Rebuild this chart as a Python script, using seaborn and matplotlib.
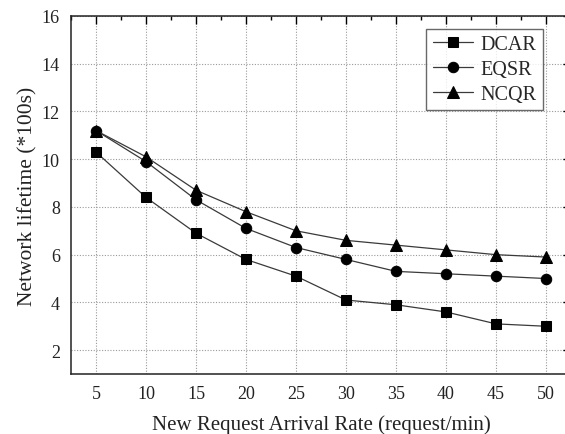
import matplotlib
matplotlib.use("Agg")
import matplotlib.pyplot as plt
import seaborn as sns
import pandas as pd
from matplotlib.ticker import MultipleLocator

rates = [5, 10, 15, 20, 25, 30, 35, 40, 45, 50]
dcar = [10.3, 8.4, 6.9, 5.8, 5.1, 4.1, 3.9, 3.6, 3.1, 3.0]
eqsr = [11.2, 9.9, 8.3, 7.1, 6.3, 5.8, 5.3, 5.2, 5.1, 5.0]
ncqr = [11.2, 10.1, 8.7, 7.8, 7.0, 6.6, 6.4, 6.2, 6.0, 5.9]
series_names = ["DCAR", "EQSR", "NCQR"]
x_ticks = [5, 10, 15, 20, 25, 30, 35, 40, 45, 50]
y_ticks = [2, 4, 6, 8, 10, 12, 14, 16]

sns.set_theme(style="white")
plt.rcParams['font.family'] = ['Liberation Serif', 'DejaVu Serif']

df = pd.DataFrame({
    "rate": rates * 3,
    "life": dcar + eqsr + ncqr,
    "alg": [series_names[0]] * 10 + [series_names[1]] * 10 + [series_names[2]] * 10,
})

fig = plt.figure(figsize=(5.65, 4.35), dpi=100)
ax = fig.add_axes([71 / 565, 1 - 375 / 435, 500 / 565, 358 / 435])

markers = {"DCAR": "s", "EQSR": "o", "NCQR": "^"}
for name in series_names:
    sub = df[df["alg"] == name]
    sns.lineplot(data=sub, x="rate", y="life", ax=ax, color="#3a3a3a", lw=0.9,
                 marker=markers[name], markersize=7.5 if name != "NCQR" else 8.5,
                 markerfacecolor="black", markeredgecolor="black",
                 label=name)

ax.set_xlim(2.5, 52.5)
ax.set_ylim(1, 16)
ax.set_xticks(x_ticks)
ax.set_yticks(y_ticks)
ax.xaxis.set_minor_locator(MultipleLocator(2.5))
ax.yaxis.set_minor_locator(MultipleLocator(1))
ax.tick_params(which="both", direction="in", top=True, right=True, labelsize=13, colors="black")
ax.tick_params(which="major", length=6, width=1)
ax.tick_params(which="minor", length=3, width=1)
ax.tick_params(axis="x", pad=8)
ax.tick_params(axis="y", pad=8)
for lab in ax.get_xticklabels() + ax.get_yticklabels():
    lab.set_color("#222222")

ax.grid(True, which="major", linestyle=(0, (1, 1.5)), color="#9a9a9a", lw=0.8)
for s in ax.spines.values():
    s.set_color("#222222")
    s.set_linewidth(1.1)

ax.set_xlabel("New Request Arrival Rate (request/min)", fontsize=15, color="#222222", labelpad=9)
ax.set_ylabel("Network lifetime (*100s)", fontsize=15.5, color="#222222", labelpad=3)

leg = ax.legend(loc="upper right", bbox_to_anchor=((543 - 71) / 500, (375 - 30) / 358),
                fontsize=14.5, frameon=True, fancybox=False, handlelength=2.0,
                handletextpad=0.4, borderpad=0.3, labelspacing=0.3, borderaxespad=0)
leg.get_frame().set_edgecolor("#444444")
leg.get_frame().set_linewidth(1.0)

fig.savefig("out.png", dpi=100)
